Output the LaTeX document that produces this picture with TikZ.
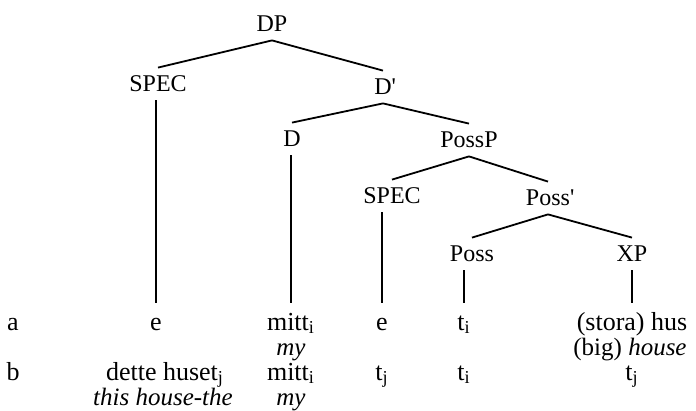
\documentclass[tikz,border=0pt]{standalone}
\usepackage{fontspec}
\setmainfont{Liberation Serif}
\begin{document}
\begin{tikzpicture}[x=0.5pt,y=-0.5pt,
  every node/.style={font=\fontsize{12}{14}\selectfont},
  cat/.style={anchor=base,text height=8pt,text depth=0pt,inner xsep=1pt,inner ysep=4pt},
  leaf/.style={anchor=base,font=\fontsize{13}{15}\selectfont,text height=9pt,inner xsep=1pt,inner ysep=4.5pt},
  word/.style={anchor=base,font=\fontsize{13}{15}\selectfont},
  gloss/.style={anchor=base,font=\fontsize{12.5}{15}\selectfont\itshape},
  branch/.style={line width=0.9pt},
  stem/.style={line width=0.7pt}]
\useasboundingbox (0,0) rectangle (696,411);
% tree
\node[cat] (DP) at (272,32) {DP};
\node[cat] (SPECa) at (158,92) {SPEC};
\node[cat] (Dbar) at (383,95) {D\rlap{\textquotesingle}};
\node[cat] (D) at (292,147) {D};
\node[cat] (PossP) at (469,148) {PossP};
\node[cat] (SPECb) at (392,204) {SPEC};
\node[cat] (Possbar) at (548,206) {Poss\rlap{\textquotesingle}};
\node[cat] (Poss) at (472,262) {Poss};
\node[cat] (XP) at (632,262) {XP};
\draw[branch] (DP.south) -- (SPECa.north);
\draw[branch] (DP.south) -- (Dbar.north);
\draw[branch] (Dbar.south) -- (D.north);
\draw[branch] (Dbar.south) -- (PossP.north);
\draw[branch] (PossP.south) -- (SPECb.north);
\draw[branch] (PossP.south) -- (Possbar.north);
\draw[branch] (Possbar.south) -- (Poss.north);
\draw[branch] (Possbar.south) -- (XP.north);
% row a
\node[word] (la) at (13,330) {a};
\node[leaf] (ea) at (156,330) {e};
\node[leaf] (mitta) at (291,330) {mitt\textsubscript{i}};
\node[leaf] (eb) at (382,330) {e};
\node[leaf] (tia) at (464,330) {t\textsubscript{i}};
\node[leaf] (hus) at (632,330) {(stora) hus};
\node[gloss] (mya) at (291,355) {my};
\node[gloss] (house) at (630,355) {\textup{(big)} house};
\foreach \p/\l in {SPECa/ea,D/mitta,SPECb/eb,Poss/tia,XP/hus}
  \draw[stem] (\l.north |- \p.south) -- (\l.north);
% row b
\node[word] (lb) at (13,380) {b};
\node[word] (huset) at (165,380) {dette huset\textsubscript{j}};
\node[word] (mittb) at (291,380) {mitt\textsubscript{i}};
\node[word] (tjb) at (382,380) {t\textsubscript{j}};
\node[word] (tib) at (464,380) {t\textsubscript{i}};
\node[word] (tjc) at (632,380) {t\textsubscript{j}};
\node[gloss] (this) at (163,405) {this house-the};
\node[gloss] (myb) at (291,405) {my};
\end{tikzpicture}
\end{document}
